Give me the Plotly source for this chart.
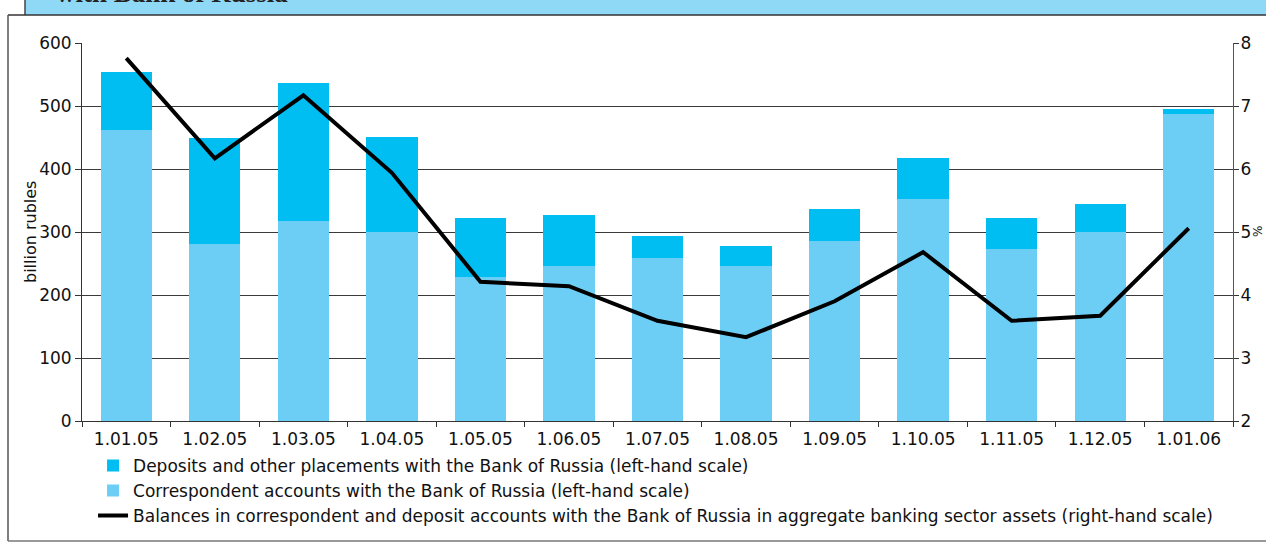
import plotly.graph_objects as go

categories = ["1.01.05", "1.02.05", "1.03.05", "1.04.05", "1.05.05", "1.06.05", "1.07.05",
              "1.08.05", "1.09.05", "1.10.05", "1.11.05", "1.12.05", "1.01.06"]
correspondent = [462, 281, 317, 300, 229, 246, 259, 246, 286, 352, 273, 300, 487]
deposits = [92, 168, 219, 151, 93, 81, 35, 32, 51, 65, 49, 44, 8]
share_pct = [7.76, 6.17, 7.17, 5.94, 4.21, 4.14, 3.59, 3.33, 3.90, 4.68, 3.59, 3.67, 5.06]

FONT = "DejaVu Sans, Liberation Sans, Arial, sans-serif"
TXT = "#111111"

fig = go.Figure()
fig.add_trace(go.Bar(
    x=categories, y=correspondent, name="Correspondent accounts with the Bank of Russia (left-hand scale)",
    marker=dict(color="#6dcef5", line=dict(width=0)), legendrank=2))
fig.add_trace(go.Bar(
    x=categories, y=deposits, name="Deposits and other placements with the Bank of Russia (left-hand scale)",
    marker=dict(color="#00bdf2", line=dict(width=0)), legendrank=1))
fig.add_trace(go.Scatter(
    x=categories, y=share_pct, yaxis="y2", mode="lines",
    name="Balances in correspondent and deposit accounts with the Bank of Russia in aggregate banking sector assets (right-hand scale)",
    line=dict(color="#000000", width=4), legendrank=3))

fig.update_layout(
    width=1266, height=543,
    margin=dict(l=82, r=33, t=43, b=122, autoexpand=False),
    paper_bgcolor="white", plot_bgcolor="white",
    barmode="stack", bargap=0.42,
    font=dict(family=FONT, size=16, color=TXT),
    showlegend=True,
    legend=dict(orientation="v", x=0.0096, xanchor="left", y=-0.071, yanchor="top",
                traceorder="normal", font=dict(size=17, family=FONT, color=TXT),
                bgcolor="rgba(0,0,0,0)", tracegroupgap=0),
    xaxis=dict(type="category", showgrid=False, showline=True, linecolor="#333333", linewidth=1,
               ticks="outside", tickson="boundaries", ticklen=5, tickcolor="#333333",
               ticklabelstandoff=3,
               tickfont=dict(size=17, family=FONT, color=TXT)),
    yaxis=dict(range=[0, 600], dtick=100, showgrid=True, gridcolor="#3a3a3a", gridwidth=1,
               showline=True, linecolor="#333333", linewidth=1, ticks="outside", ticklen=6,
               tickcolor="#333333", zeroline=False,
               tickfont=dict(size=17, family=FONT, color=TXT)),
    yaxis2=dict(range=[2, 8], dtick=1, overlaying="y", side="right", showgrid=False,
                showline=True, linecolor="#555555", linewidth=1, ticks="outside", ticklen=5,
                tickcolor="#333333", zeroline=False, ticklabelstandoff=-2,
                tickfont=dict(size=17, family=FONT, color=TXT)),
)

# frame and header band (pixel -> paper helpers)
def px_x(p):
    return (p - 82) / 1151.0

def px_y(p):
    return (421 - p) / 378.0

fig.add_annotation(text="billion rubles", xref="paper", yref="paper", x=px_x(30), y=px_y(232),
                   xanchor="center", yanchor="middle", textangle=-90, showarrow=False,
                   font=dict(size=16, family=FONT, color=TXT))
fig.add_annotation(text="%", xref="paper", yref="paper", x=px_x(1258), y=px_y(232),
                   xanchor="center", yanchor="middle", textangle=-90, showarrow=False,
                   borderpad=0, font=dict(size=12, family=FONT, color=TXT))

fig.add_shape(type="rect", xref="paper", yref="paper",
              x0=px_x(25), x1=px_x(1280), y0=px_y(15), y1=px_y(-20),
              fillcolor="#8fd8f6", line=dict(width=0), layer="below")
fig.add_shape(type="line", xref="paper", yref="paper",
              x0=px_x(25), x1=px_x(25), y0=px_y(15), y1=px_y(-20),
              line=dict(color="#444444", width=1.5))
fig.add_shape(type="line", xref="paper", yref="paper",
              x0=px_x(8), x1=px_x(1280), y0=px_y(15), y1=px_y(15),
              line=dict(color="#333333", width=1.5))
fig.add_shape(type="line", xref="paper", yref="paper",
              x0=px_x(8), x1=px_x(8), y0=px_y(15), y1=px_y(541),
              line=dict(color="#555555", width=1.5))
fig.add_shape(type="line", xref="paper", yref="paper",
              x0=px_x(8), x1=px_x(1280), y0=px_y(541), y1=px_y(541),
              line=dict(color="#777777", width=1.5))
fig.add_annotation(text="<b>with Bank of Russia</b>", xref="paper", yref="paper",
                   x=px_x(54), y=px_y(10), xanchor="left", yanchor="bottom", showarrow=False,
                   font=dict(family="Liberation Serif, Times New Roman, serif", size=27, color="#222222"))

fig.write_html("out.html")
